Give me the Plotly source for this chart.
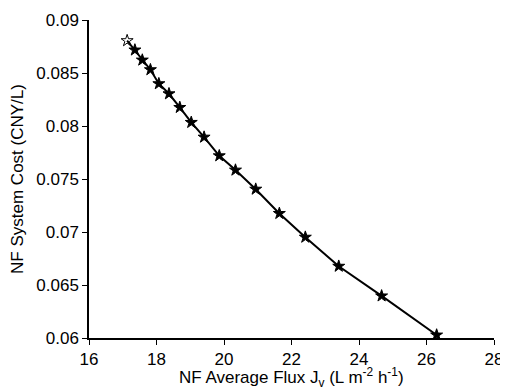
import plotly.graph_objects as go

flux = [17.13, 17.36, 17.58, 17.82, 18.07, 18.37, 18.69, 19.03, 19.41, 19.86,
        20.34, 20.94, 21.64, 22.41, 23.40, 24.67, 26.30]
cost = [0.08805, 0.08717, 0.08622, 0.08531, 0.08399, 0.08304, 0.08175, 0.08034,
        0.07895, 0.07719, 0.07584, 0.07404, 0.07175, 0.06951, 0.06677, 0.06397, 0.06028]
x_ticks = [16, 18, 20, 22, 24, 26, 28]
y_ticks = [0.06, 0.065, 0.07, 0.075, 0.08, 0.085, 0.09]
y_labels = ["0.06", "0.065", "0.07", "0.075", "0.08", "0.085", "0.09"]
x_title = "NF Average Flux J<sub>v</sub> (L m<sup>-2</sup> h<sup>-1</sup>)"
y_title = "NF System Cost (CNY/L)"

symbols = ["star-open"] + ["star"] * (len(flux) - 1)

fig = go.Figure(go.Scatter(
    x=flux, y=cost, mode="lines+markers",
    line=dict(color="black", width=2),
    marker=dict(symbol=symbols, size=9, color="black", line=dict(color="black", width=1)),
    showlegend=False,
))

font = dict(family="Liberation Sans, Arial, sans-serif", size=17, color="black")
fig.update_layout(
    width=500, height=380,
    margin=dict(l=81, r=14, t=12, b=50),
    paper_bgcolor="white", plot_bgcolor="white",
    font=font,
    xaxis=dict(range=[16, 28], tickvals=x_ticks, showline=True, linecolor="black", linewidth=1.5,
               ticks="outside", ticklen=5, tickcolor="black", showgrid=False, zeroline=False,
               automargin=False, tickfont=dict(size=17)),
    yaxis=dict(range=[0.06, 0.09], tickvals=y_ticks, ticktext=y_labels, showline=True,
               linecolor="black", linewidth=1.5, ticks="outside", ticklen=5, tickcolor="black",
               showgrid=False, zeroline=False, automargin=False, tickfont=dict(size=17),
               title=dict(text=y_title, font=dict(size=17))),
    annotations=[dict(text=x_title, xref="paper", yref="paper", x=0.5, y=0,
                      xanchor="center", yanchor="middle", yshift=-39.5, showarrow=False,
                      font=dict(size=17))],
)
fig.write_html("out.html")
